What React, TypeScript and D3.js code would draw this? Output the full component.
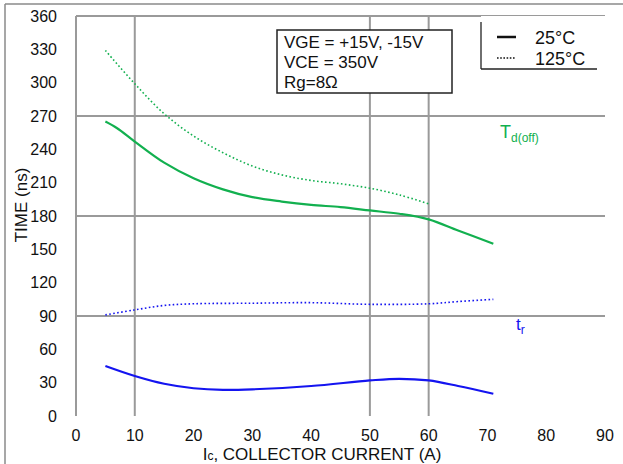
import React from "react";
import * as d3 from "d3";

const xTicks = [0, 10, 20, 30, 40, 50, 60, 70, 80, 90];
const yTicks = [0, 30, 60, 90, 120, 150, 180, 210, 240, 270, 300, 330, 360];
const gridX = [10, 50, 60];
const gridY = [90, 180, 270, 360];

const tdoff25X = [5, 7, 10, 15, 20, 25, 30, 35, 40, 45, 50, 55, 60, 65, 71];
const tdoff25Y = [265, 259, 247, 228, 214, 204, 197, 193, 190, 188, 185, 182, 177, 167, 155];
const tdoff125X = [5, 10, 15, 20, 25, 30, 35, 40, 45, 50, 55, 60];
const tdoff125Y = [329, 299, 272, 252, 237, 225, 217, 212, 209, 205, 199, 191];
const tr25X = [5, 10, 15, 20, 25, 30, 40, 50, 55, 60, 65, 71];
const tr25Y = [45, 36, 29, 25, 23.5, 24, 27, 32, 33.5, 32, 27, 20];
const tr125X = [5, 10, 15, 20, 30, 40, 50, 60, 65, 71];
const tr125Y = [91, 95.5, 99.5, 101, 101.5, 102, 100.5, 101, 103, 105];

const GREEN = "#12b04f";
const BLUE = "#1414f0";
const GRID = "#9a9a9a";
const FONT = "Arial, 'Liberation Sans', sans-serif";

export default function App() {
  const W = 623, H = 464;
  const x = d3.scaleLinear().domain([0, 90]).range([76, 605]);
  const y = d3.scaleLinear().domain([0, 360]).range([416, 16]);
  const line = d3
    .line<[number, number]>()
    .x((d) => x(d[0]))
    .y((d) => y(d[1]))
    .curve(d3.curveCatmullRom.alpha(0.5));
  const mk = (xs: number[], ys: number[]) => line(xs.map((v, i) => [v, ys[i]] as [number, number])) || "";

  return (
    <svg width={W} height={H} style={{ position: "absolute", left: 0, top: 0, background: "#fff" }} fontFamily={FONT}>
      {/* outer frame */}
      <line x1={5} y1={4} x2={W} y2={4} stroke="#8a8a8a" strokeWidth={1.5} />
      <line x1={5} y1={4} x2={5} y2={H} stroke="#8a8a8a" strokeWidth={1.5} />
      {/* grid */}
      {gridY.map((v) => (
        <line key={"gy" + v} x1={x(0)} x2={x(90)} y1={y(v)} y2={y(v)} stroke={GRID} strokeWidth={2} />
      ))}
      <line x1={x(0)} x2={x(0)} y1={y(0)} y2={y(360)} stroke={GRID} strokeWidth={2} />
      {gridX.map((v) => (
        <line key={"gx" + v} x1={x(v)} x2={x(v)} y1={y(0)} y2={y(360)} stroke={GRID} strokeWidth={2} />
      ))}
      {/* tick labels */}
      {yTicks.map((v) => (
        <text key={"yt" + v} x={57} y={y(v)} dy="0.35em" textAnchor="end" fontSize={16} fill="#111">
          {v}
        </text>
      ))}
      {xTicks.map((v) => (
        <text key={"xt" + v} x={x(v)} y={435} dy="0.35em" textAnchor="middle" fontSize={16} fill="#111">
          {v}
        </text>
      ))}
      {/* axis titles */}
      <text transform="translate(21,205) rotate(-90)" textAnchor="middle" dy="0.35em" fontSize={17} fill="#111">
        TIME (ns)
      </text>
      <text x={322} y={454} dy="0.35em" textAnchor="middle" fontSize={17} fill="#111">
        I<tspan fontSize={12}>c</tspan>, COLLECTOR CURRENT (A)
      </text>
      {/* curves */}
      <path d={mk(tdoff125X, tdoff125Y)} fill="none" stroke={GREEN} strokeWidth={1.6} strokeDasharray="1.6,2.4" />
      <path d={mk(tdoff25X, tdoff25Y)} fill="none" stroke={GREEN} strokeWidth={2.2} />
      <path d={mk(tr125X, tr125Y)} fill="none" stroke={BLUE} strokeWidth={1.6} strokeDasharray="1.6,2.4" />
      <path d={mk(tr25X, tr25Y)} fill="none" stroke={BLUE} strokeWidth={2.2} />
      {/* curve labels */}
      <text x={500} y={138} fontSize={18} fill={GREEN}>
        T<tspan fontSize={12} dy={4}>d(off)</tspan>
      </text>
      <text x={516} y={330} fontSize={17} fill={BLUE}>
        t<tspan fontSize={12} dy={4}>r</tspan>
      </text>
      {/* annotation box */}
      <rect x={277} y={30} width={175} height={63} fill="#fff" stroke="#222" strokeWidth={1.5} />
      <text x={284} y={42} dy="0.35em" fontSize={17} fill="#111">VGE = +15V, -15V</text>
      <text x={284} y={62} dy="0.35em" fontSize={17} fill="#111">VCE = 350V</text>
      <text x={284} y={82} dy="0.35em" fontSize={17} fill="#111">Rg=8Ω</text>
      {/* legend */}
      <rect x={481} y={16} width={124} height={53} fill="#fff" />
      <line x1={481} y1={22} x2={481} y2={69} stroke="#222" strokeWidth={1.3} />
      <line x1={481} y1={69} x2={597} y2={69} stroke="#222" strokeWidth={1.3} />
      <line x1={497} x2={516} y1={37} y2={37} stroke="#111" strokeWidth={2.5} />
      <text x={535} y={38} dy="0.35em" fontSize={18} fill="#111">25°C</text>
      <line x1={497} x2={516} y1={58} y2={58} stroke="#111" strokeWidth={1.6} strokeDasharray="1.6,1.6" />
      <text x={535} y={59} dy="0.35em" fontSize={18} fill="#111">125°C</text>
    </svg>
  );
}
